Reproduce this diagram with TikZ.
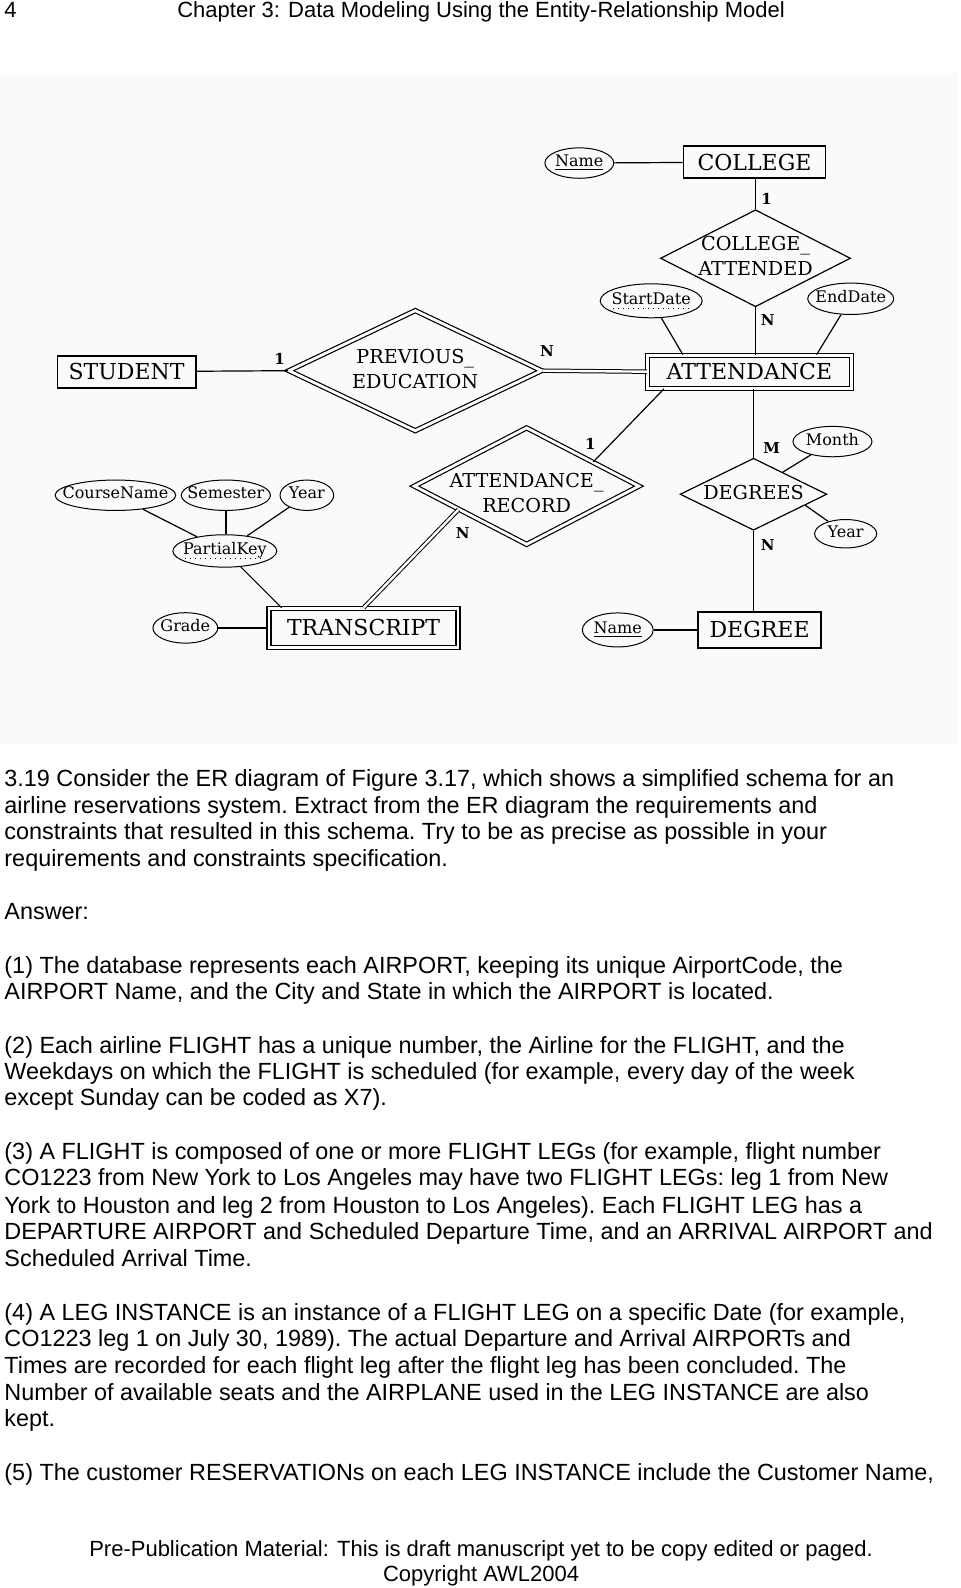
\documentclass[tikz,border=0pt]{standalone}
\usepackage{fontspec}
\setmainfont{Liberation Sans}
\newfontfamily\erfont{DejaVu Serif}
\usetikzlibrary{shapes.geometric}

% text that does not widen its shape
\newcommand{\ztxt}[1]{\makebox[0pt]{\begin{tabular}{@{}c@{}}#1\end{tabular}}}

\tikzset{
  entity/.style={draw, line width=0.9pt, inner sep=0pt, font=\erfont\fontsize{11}{13}\selectfont},
  weakentity/.style={draw, double, double distance=1.4pt, line width=0.6pt, inner sep=0pt, font=\erfont\fontsize{11}{13}\selectfont},
  rel/.style={diamond, draw, line width=0.6pt, inner sep=0pt, font=\erfont\fontsize{9.6}{12.5}\selectfont},
  weakrel/.style={rel, double, double distance=1.4pt},
  attr/.style={ellipse, draw, line width=0.5pt, inner sep=0pt, font=\erfont\fontsize{8}{9}\selectfont},
  card/.style={inner sep=0pt, font=\erfont\bfseries\fontsize{7.5}{9}\selectfont},
  link/.style={line width=0.6pt},
  weaklink/.style={double, double distance=1.2pt, line width=0.5pt},
  partial/.style={dotted, line width=0.5pt},
  txt/.style={anchor=base west, inner sep=0pt, font=\fontsize{11}{13}\selectfont},
  body/.style={txt, font=\fontsize{11.7}{13}\selectfont\frenchspacing},
}

\begin{document}
\begin{tikzpicture}[x=0.5063pt, y=-0.5063pt]
  \useasboundingbox[fill=white] (0,0) rectangle (948,1568);
  \fill[black!2] (0,72) rectangle (945,735);

  % Header
  \node[txt] (pageno) at (4,17) {4};
  \node[txt, anchor=base] (head) at (475,17) {Chapter 3: Data Modeling Using the Entity-Relationship Model};

  % Entities
  \node[entity, minimum width=71pt, minimum height=16pt] (college) at (745,160) {COLLEGE};
  \node[weakentity, minimum width=102pt, minimum height=16.5pt] (att) at (740,367) {ATTENDANCE};
  \node[entity, minimum width=69pt, minimum height=16pt] (student) at (125,367) {STUDENT};
  \node[weakentity, minimum width=94.5pt, minimum height=19.5pt] (tr) at (359,620) {TRANSCRIPT};
  \node[entity, minimum width=61.5pt, minimum height=18pt] (degree) at (750,622) {DEGREE};

  % Relationships
  \node[rel, minimum width=95pt, minimum height=48.5pt] (ca) at (746,255) {\ztxt{COLLEGE\_\\ATTENDED}};
  \node[weakrel, minimum width=126.5pt, minimum height=60.3pt] (pe) at (410,366) {\ztxt{PREVIOUS\_\\EDUCATION}};
  \node[weakrel, minimum width=112.5pt, minimum height=58.5pt] (ar) at (520,480) {\raisebox{-7pt}[0pt][0pt]{\ztxt{ATTENDANCE\_\\RECORD}}};
  \node[rel, minimum width=73.4pt, minimum height=36pt] (degs) at (744,488) {\ztxt{DEGREES}};

  % Attributes
  \node[attr, minimum width=34.4pt, minimum height=15.2pt] (cname) at (572,161) {\ztxt{\underline{Name}}};
  \node[attr, minimum width=51pt, minimum height=17pt] (start) at (643,297) {\ztxt{StartDate}};
  \node[attr, minimum width=43pt, minimum height=15.7pt] (end) at (840,295) {\ztxt{EndDate}};
  \node[attr, minimum width=39.5pt, minimum height=15.2pt] (month) at (822,436) {\ztxt{Month}};
  \node[attr, minimum width=31pt, minimum height=14.2pt] (dyear) at (835,527) {\ztxt{Year}};
  \node[attr, minimum width=35.4pt, minimum height=17pt] (dname) at (610,622) {\ztxt{\underline{Name}}};
  \node[attr, minimum width=32.4pt, minimum height=15.2pt] (grade) at (183,620) {\ztxt{Grade}};
  \node[attr, minimum width=60.3pt, minimum height=15.2pt] (cn) at (114,489) {\ztxt{CourseName}};
  \node[attr, minimum width=44.6pt, minimum height=15.2pt] (sem) at (223,489) {\ztxt{Semester}};
  \node[attr, minimum width=26.8pt, minimum height=15.2pt] (yr) at (303,489) {\ztxt{Year}};
  \node[attr, minimum width=52pt, minimum height=16.2pt] (pk) at (222,544) {\ztxt{PartialKey}};
  % dotted underlines of the partial keys
  \draw[partial] ([xshift=-19pt,yshift=-4pt]start.center) -- ([xshift=19pt,yshift=-4pt]start.center);
  \draw[partial] ([xshift=-20pt,yshift=-4pt]pk.center) -- ([xshift=20pt,yshift=-4pt]pk.center);

  % Connectors
  \draw[link] (cname) -- (college);
  \draw[link] (ca.north |- college.south) -- (ca.north);
  \draw[link] (ca.south) -- (ca.south |- att.north);
  \draw[link] (start) -- ([xshift=18pt]att.north west);
  \draw[link] (end) -- ([xshift=-17.7pt]att.north east);
  \draw[link] (student) -- (pe.west);
  \draw[weaklink] (pe.east) -- (att.west);
  \draw[link] ([xshift=8.6pt]att.south west) -- (ar.20);
  \draw[weaklink] (ar.199) -- (tr.north);
  \draw[link] (degs.north |- att.south) -- (degs.north);
  \draw[link] (degs.south) -- (degs.south |- degree.north);
  \draw[link] (month) -- (degs.37);
  \draw[link] (dyear) -- (degs.348);
  \draw[link] (dname) -- (degree);
  \draw[link] (grade) -- (tr);
  \draw[link] (pk) -- ([xshift=6.6pt]tr.north west);
  \draw[link] (cn) -- (pk);
  \draw[line width=0.9pt] (sem) -- (sem |- pk.north);
  \draw[link] (yr) -- (pk);

  % Cardinalities
  \node[card] (c1) at (276,354) {1};
  \node[card] (c2) at (540,347) {N};
  \node[card] (c3) at (757,196) {1};
  \node[card] (c4) at (758,316) {N};
  \node[card] (c5) at (583,438) {1};
  \node[card] (c6) at (457,526) {N};
  \node[card] (c7) at (762,442) {M};
  \node[card] (c8) at (758,538) {N};

  % Exercise text
  \foreach \yy/\ln [count=\i] in {
    770/{3.19 Consider the ER diagram of Figure 3.17, which shows a simplified schema for an},
    796/{airline reservations system. Extract from the ER diagram the requirements and},
    822/{constraints that resulted in this schema. Try to be as precise as possible in your},
    849/{requirements and constraints specification.},
    901/{Answer:},
    954/{(1) The database represents each AIRPORT, keeping its unique AirportCode, the},
    980/{AIRPORT Name, and the City and State in which the AIRPORT is located.},
    1033/{(2) Each airline FLIGHT has a unique number, the Airline for the FLIGHT, and the},
    1059/{Weekdays on which the FLIGHT is scheduled (for example, every day of the week},
    1085/{except Sunday can be coded as X7).},
    1138/{(3) A FLIGHT is composed of one or more FLIGHT LEGs (for example, flight number},
    1164/{CO1223 from New York to Los Angeles may have two FLIGHT LEGs: leg 1 from New},
    1191/{York to Houston and leg 2 from Houston to Los Angeles). Each FLIGHT LEG has a},
    1217/{DEPARTURE AIRPORT and Scheduled Departure Time, and an ARRIVAL AIRPORT and},
    1244/{Scheduled Arrival Time.},
    1297/{(4) A LEG INSTANCE is an instance of a FLIGHT LEG on a specific Date (for example,},
    1323/{CO1223 leg 1 on July 30, 1989). The actual Departure and Arrival AIRPORTs and},
    1349/{Times are recorded for each flight leg after the flight leg has been concluded. The},
    1376/{Number of available seats and the AIRPLANE used in the LEG INSTANCE are also},
    1402/{kept.},
    1455/{(5) The customer RESERVATIONs on each LEG INSTANCE include the Customer Name,}}
    \node[body] (line\i) at (4,\yy+7) {\ln};

  % Footer
  \node[txt, anchor=base] (foot1) at (475,1537) {Pre-Publication Material: This is draft manuscript yet to be copy edited or paged.};
  \node[txt, anchor=base] (foot2) at (475,1562) {Copyright AWL2004};
\end{tikzpicture}
\end{document}
